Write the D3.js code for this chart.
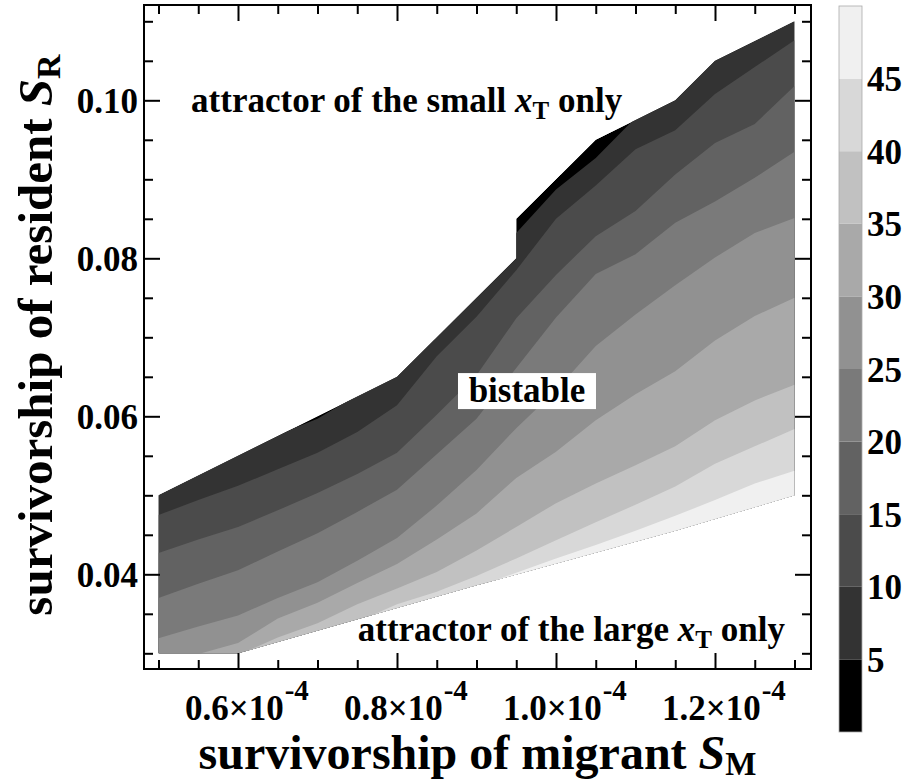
<!DOCTYPE html>
<html>
<head>
<meta charset="utf-8">
<script src="https://cdn.jsdelivr.net/npm/d3@7"></script>
<style>
  body { margin: 0; background: #fff; }
  svg { display: block; }
  text { font-family: "Liberation Serif", "Times New Roman", serif; font-weight: bold; fill: #000; }
</style>
</head>
<body>
<svg id="chart" width="912" height="783"></svg>
<script>
// Migrant survivorship S_M, in units of 1e-4 (grid columns)
const sM = [0.50, 0.55, 0.60, 0.65, 0.70, 0.75, 0.80, 0.85, 0.90, 0.95, 1.00, 1.05, 1.10, 1.15, 1.20, 1.25, 1.30];

// Contour levels and, for each level, the resident survivorship S_R where it is crossed in each column
const levels = [5, 10, 15, 20, 25, 30, 35, 40, 45];
const iso05 = [0.0505, 0.0530, 0.0553, 0.0577, 0.0597, 0.0627, 0.0655, 0.0705, 0.0755, 0.0832, 0.0887, 0.0927, 0.0978, 0.1005, 0.1055, 0.1080, 0.1105];
const iso10 = [0.0475, 0.0494, 0.0512, 0.0533, 0.0554, 0.0580, 0.0614, 0.0676, 0.0726, 0.0785, 0.0850, 0.0892, 0.0938, 0.0962, 0.1008, 0.1042, 0.1076];
const iso15 = [0.0427, 0.0444, 0.0460, 0.0481, 0.0503, 0.0527, 0.0554, 0.0602, 0.0652, 0.0724, 0.0779, 0.0828, 0.0860, 0.0906, 0.0946, 0.0970, 0.1018];
const iso20 = [0.0370, 0.0388, 0.0405, 0.0429, 0.0452, 0.0479, 0.0507, 0.0552, 0.0597, 0.0661, 0.0725, 0.0780, 0.0805, 0.0845, 0.0872, 0.0902, 0.0935];
const iso25 = [0.0319, 0.0334, 0.0348, 0.0370, 0.0390, 0.0417, 0.0446, 0.0487, 0.0532, 0.0585, 0.0633, 0.0689, 0.0729, 0.0766, 0.0801, 0.0832, 0.0851];
const iso30 = [0.0288, 0.0299, 0.0313, 0.0344, 0.0364, 0.0389, 0.0413, 0.0444, 0.0477, 0.0522, 0.0555, 0.0595, 0.0628, 0.0657, 0.0696, 0.0727, 0.0750];
const iso35 = [0.0270, 0.0283, 0.0298, 0.0320, 0.0338, 0.0362, 0.0382, 0.0403, 0.0430, 0.0460, 0.0490, 0.0515, 0.0538, 0.0562, 0.0595, 0.0620, 0.0640];
const iso40 = [0.0260, 0.0272, 0.0285, 0.0298, 0.0315, 0.0340, 0.0362, 0.0378, 0.0398, 0.0420, 0.0443, 0.0466, 0.0488, 0.0511, 0.0540, 0.0562, 0.0584];
const iso45 = [0.0250, 0.0262, 0.0275, 0.0288, 0.0300, 0.0318, 0.0345, 0.0362, 0.0384, 0.0402, 0.0420, 0.0437, 0.0455, 0.0474, 0.0494, 0.0515, 0.0531];
const isolines = [iso05, iso10, iso15, iso20, iso25, iso30, iso35, iso40, iso45];

// Edges of the bistable region: [S_M (1e-4), S_R]
const upperEdge = [[0.50, 0.050], [0.80, 0.065], [0.95, 0.080], [0.95, 0.085], [1.05, 0.095], [1.10, 0.0975], [1.15, 0.100], [1.20, 0.105], [1.30, 0.110]];
const lowerEdge = [[0.50, 0.030], [0.60, 0.030], [0.90, 0.0386], [1.15, 0.0455], [1.30, 0.050]];

// Band fills, from level 0-5 up to 45-50
const bandColors = ["#000000", "#333333", "#4b4b4b", "#626262", "#7a7a7a", "#919191", "#a9a9a9", "#c1c1c1", "#d8d8d8", "#f0f0f0"];
const barLabels = [5, 10, 15, 20, 25, 30, 35, 40, 45];

// Axis ticks
const xMajor = [0.6, 0.8, 1.0, 1.2];
const xMinor = [0.50, 0.55, 0.65, 0.70, 0.75, 0.85, 0.90, 0.95, 1.05, 1.10, 1.15, 1.25, 1.30];
const yMajor = [0.04, 0.06, 0.08, 0.10];
const yMinor = [0.030, 0.035, 0.045, 0.050, 0.055, 0.065, 0.070, 0.075, 0.085, 0.090, 0.095, 0.105, 0.110];

const svg = d3.select("#chart");
const frame = { left: 144, right: 811, top: 5, bottom: 669 };
const labelSize = 35, titleSize = 48;

const x = d3.scaleLinear().domain([0.5, 1.3]).range([158.5, 794.5]);
const y = d3.scaleLinear().domain([0.03, 0.11]).range([653.3, 21.3]);

// Clip region: upper edge left-to-right, then lower edge back
const regionPts = upperEdge.concat(lowerEdge.slice().reverse());
const regionLine = d3.line().x(d => x(d[0])).y(d => y(d[1])).curve(d3.curveLinearClosed);

svg.append("clipPath").attr("id", "region")
  .append("path").attr("d", regionLine(regionPts));

const bands = svg.append("g").attr("clip-path", "url(#region)");

// Lowest band fills the whole region
bands.append("path")
  .attr("d", regionLine(regionPts))
  .attr("fill", bandColors[0]);

// Each level paints everything below its contour with the next band colour
const area = d3.area()
  .x(d => x(d.sm))
  .y0(frame.bottom + 20)
  .y1(d => y(d.sr));

isolines.forEach((line, k) => {
  const pts = sM.map((s, i) => ({ sm: s, sr: line[i] }));
  bands.append("path")
    .attr("d", area(pts))
    .attr("fill", bandColors[k + 1]);
});

// Axes with inward ticks on all four sides
function styleAxis(g) {
  g.select(".domain").remove();
  g.selectAll(".tick line").attr("stroke", "#000").attr("stroke-width", 2);
  g.attr("font-family", null).attr("font-size", null);
}
const majorLen = 16, minorLen = 9;

svg.append("g").attr("transform", `translate(0,${frame.bottom})`)
  .call(d3.axisBottom(x).tickValues(xMajor).tickSize(-majorLen).tickFormat(""))
  .call(styleAxis);
svg.append("g").attr("transform", `translate(0,${frame.bottom})`)
  .call(d3.axisBottom(x).tickValues(xMinor).tickSize(-minorLen).tickFormat(""))
  .call(styleAxis);
svg.append("g").attr("transform", `translate(0,${frame.top})`)
  .call(d3.axisTop(x).tickValues(xMajor).tickSize(-majorLen).tickFormat(""))
  .call(styleAxis);
svg.append("g").attr("transform", `translate(0,${frame.top})`)
  .call(d3.axisTop(x).tickValues(xMinor).tickSize(-minorLen).tickFormat(""))
  .call(styleAxis);

const leftAxis = svg.append("g").attr("transform", `translate(${frame.left},0)`)
  .call(d3.axisLeft(y).tickValues(yMajor).tickSize(-majorLen).tickPadding(6).tickFormat(d3.format(".2f")))
  .call(styleAxis);
leftAxis.selectAll("text").attr("font-size", labelSize).attr("dy", "0.36em");
svg.append("g").attr("transform", `translate(${frame.left},0)`)
  .call(d3.axisLeft(y).tickValues(yMinor).tickSize(-minorLen).tickFormat(""))
  .call(styleAxis);
svg.append("g").attr("transform", `translate(${frame.right},0)`)
  .call(d3.axisRight(y).tickValues(yMajor).tickSize(-majorLen).tickFormat(""))
  .call(styleAxis);
svg.append("g").attr("transform", `translate(${frame.right},0)`)
  .call(d3.axisRight(y).tickValues(yMinor).tickSize(-minorLen).tickFormat(""))
  .call(styleAxis);

// Frame
svg.append("rect")
  .attr("x", frame.left).attr("y", frame.top)
  .attr("width", frame.right - frame.left).attr("height", frame.bottom - frame.top)
  .attr("fill", "none").attr("stroke", "#000").attr("stroke-width", 2);

// Bottom tick labels: mantissa ×10 with exponent -4
xMajor.forEach(v => {
  const t = svg.append("text")
    .attr("x", x(v) - 53).attr("y", 720)
    .attr("font-size", labelSize);
  t.append("tspan").text(d3.format(".1f")(v) + "×10");
  t.append("tspan").attr("dx", 1).attr("dy", -20).attr("font-size", 29).text("-4");
});

// Axis titles
const xTitle = svg.append("text")
  .attr("x", (frame.left + frame.right) / 2).attr("y", 769)
  .attr("text-anchor", "middle").attr("font-size", titleSize);
xTitle.append("tspan").text("survivorship of migrant ");
xTitle.append("tspan").attr("font-style", "italic").text("S");
xTitle.append("tspan").attr("dy", 6).attr("font-size", 33).text("M");

const yTitle = svg.append("text")
  .attr("transform", `translate(52,${(frame.top + frame.bottom) / 2 - 2}) rotate(-90)`)
  .attr("text-anchor", "middle").attr("font-size", titleSize + 1);
yTitle.append("tspan").text("survivorship of resident ");
yTitle.append("tspan").attr("font-style", "italic").text("S");
yTitle.append("tspan").attr("dy", 8).attr("font-size", 34).text("R");

// Region annotations
function xtLabel(sx, sy, prefix, anchor) {
  const t = svg.append("text").attr("x", x(sx)).attr("y", y(sy))
    .attr("text-anchor", anchor).attr("font-size", labelSize);
  t.append("tspan").text(prefix);
  t.append("tspan").attr("font-style", "italic").text("x");
  t.append("tspan").attr("dy", 7).attr("font-size", 25).text("T");
  t.append("tspan").attr("dy", -7).text(" only");
}
xtLabel(0.541, 0.0985, "attractor of the small ", "start");
xtLabel(1.288, 0.0316, "attractor of the large ", "end");

const bx = x(0.9635), by = y(0.0618);
svg.append("rect")
  .attr("x", bx - 69).attr("y", by - 29).attr("width", 138).attr("height", 36)
  .attr("fill", "#fff");
svg.append("text").attr("x", bx).attr("y", by)
  .attr("text-anchor", "middle").attr("font-size", labelSize).text("bistable");

// Colour bar
const bar = { x: 839, w: 23 };
const yc = d3.scaleLinear().domain([0, 50]).range([732, 6]);
const cb = svg.append("g");
bandColors.forEach((c, k) => {
  cb.append("rect")
    .attr("x", bar.x).attr("y", yc(5 * k + 5))
    .attr("width", bar.w).attr("height", yc(5 * k) - yc(5 * k + 5))
    .attr("fill", c);
});
cb.append("rect")
  .attr("x", bar.x).attr("y", yc(50)).attr("width", bar.w).attr("height", yc(0) - yc(50))
  .attr("fill", "none").attr("stroke", "#aaa").attr("stroke-width", 0.8);
barLabels.forEach(v => {
  cb.append("text")
    .attr("x", bar.x + bar.w + 5).attr("y", yc(v)).attr("dy", "0.36em")
    .attr("font-size", labelSize).text(v);
});
</script>
</body>
</html>
